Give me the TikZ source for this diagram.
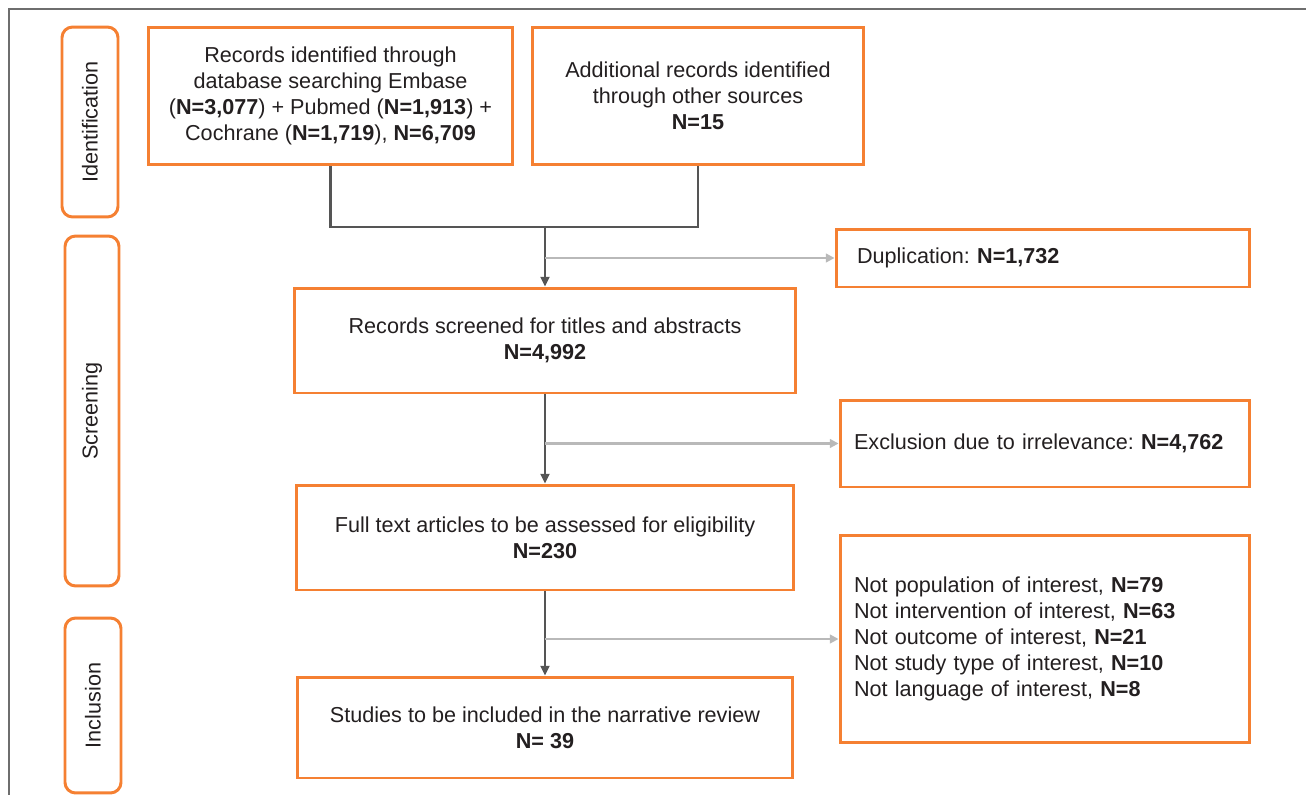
\documentclass[tikz,border=0pt]{standalone}
\usepackage{fontspec}
\setmainfont{Liberation Sans}
\usetikzlibrary{arrows.meta,positioning}
\definecolor{prisma}{RGB}{245,128,50}
\definecolor{linkgray}{RGB}{85,85,85}
\definecolor{dropgray}{RGB}{185,185,185}
\definecolor{framegray}{RGB}{110,110,110}
\definecolor{ink}{RGB}{35,31,32}
\frenchspacing

\begin{document}
\begin{tikzpicture}[
  x=0.02cm, y=-0.02cm,
  font=\fontsize{12.3}{14.7}\selectfont, text=ink,
  box/.style={draw=prisma, line width=1.7pt, align=center, inner sep=0pt},
  stage/.style={draw=prisma, line width=1.7pt, rounded corners=6pt, rotate=90, inner sep=0pt},
  note/.style={draw=prisma, line width=1.7pt, align=left, inner xsep=0.28cm, inner ysep=0pt},
  link/.style={draw=linkgray, line width=1.4pt},
  flow/.style={link, -{Triangle[width=5pt,length=5.5pt]}},
  drop/.style={draw=dropgray, line width=1.5pt, -{Triangle[width=5pt,length=5pt]}}
]
\useasboundingbox (0,0) rectangle (1306,795);
\draw[framegray, line width=1.2pt] (9,795) -- (9,9) -- (1306,9);

% stages
\node[stage, minimum width=3.8cm, minimum height=1.12cm] (ident) at (90,122) {Identification};
\node[stage, minimum width=7cm, minimum height=1.08cm] (screen) at (92,411) {Screening};
\node[stage, minimum width=3.5cm, minimum height=1.12cm] (inclu) at (93,705.5) {Inclusion};

% main flow
\node[box, minimum width=7.3cm, minimum height=2.76cm] (rec) at (330.5,96)
  {Records identified through\\database searching Embase\\(\textbf{N=3,077}) + Pubmed (\textbf{N=1,913}) +\\Cochrane (\textbf{N=1,719}), \textbf{N=6,709}};
\node[box, minimum width=6.64cm, minimum height=2.76cm] (add) at (698,96)
  {Additional records identified\\through other sources\\\textbf{N=15}};
\node[box, minimum width=10.04cm, minimum height=2.1cm] (scr) at (545,340.5)
  {Records screened for titles and abstracts\\\textbf{N=4,992}};
\node[box, minimum width=9.96cm, minimum height=2.1cm] (full) at (545,537.5)
  {Full text articles to be assessed for eligibility\\\textbf{N=230}};
\node[box, minimum width=9.9cm, minimum height=2.02cm] (incl) at (545,727.5)
  {Studies to be included in the narrative review\\\textbf{N= 39}};

% exclusions
\node[note, inner xsep=0.42cm, text width=7.44cm, minimum height=1.16cm] (dup) at (1043,258)
  {Duplication: \textbf{N=1,732}};
\node[note, text width=7.64cm, minimum height=1.74cm] (excl) at (1045,443.5)
  {Exclusion due to irrelevance: \textbf{N=4,762}};
\node[note, text width=7.64cm, minimum height=4.16cm] (why) at (1045,639)
  {Not population of interest, \textbf{N=79}\\
   Not intervention of interest, \textbf{N=63}\\
   Not outcome of interest, \textbf{N=21}\\
   Not study type of interest, \textbf{N=10}\\
   Not language of interest, \textbf{N=8}};

\coordinate (join) at (545,227);
\coordinate (d1) at (545,258);
\coordinate (d2) at (545,443.5);
\coordinate (d3) at (545,639);

\draw[link] (rec.south) |- (join) -| (add.south);
\draw[flow] (join) -- (scr.north);
\draw[flow] (scr.south) -- (full.north);
\draw[flow] (full.south) -- (incl.north);

\draw[drop] (d1) -- (dup.west);
\draw[drop] (d2) -- (excl.west);
\draw[drop] (d3) -- (why.west);

\end{tikzpicture}
\end{document}
